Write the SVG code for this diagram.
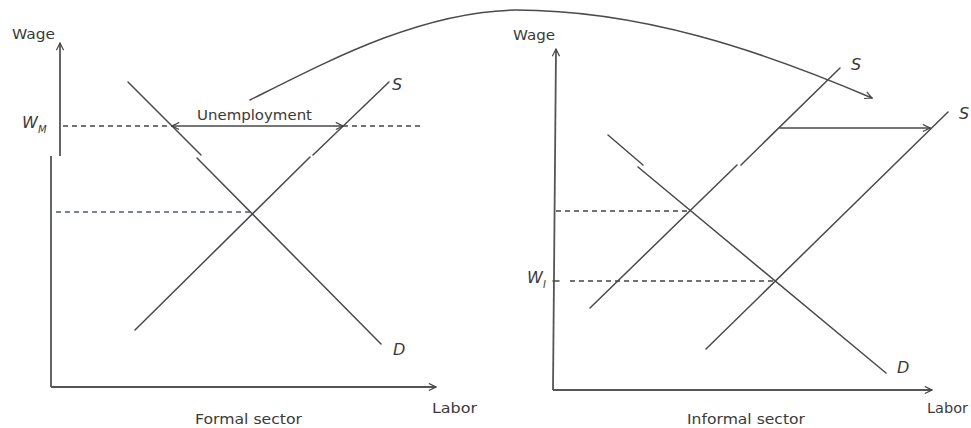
<svg xmlns="http://www.w3.org/2000/svg" width="971" height="428" viewBox="0 0 971 428">
<defs>
<style>
.ln{stroke:#4a4a4a;stroke-width:1.5;fill:none;stroke-linecap:round}
.ax{stroke:#555;stroke-width:1.8;fill:none}
.dash{stroke:#444;stroke-width:1.3;fill:none;stroke-dasharray:5 4}
.blue{stroke:#4a5a8c}
.t{font-family:"DejaVu Sans","Liberation Sans",sans-serif;font-size:14px;fill:#3a3a3a}
.i{font-family:"DejaVu Sans","Liberation Sans",sans-serif;font-size:16px;font-style:italic;fill:#3a3a3a}
.sub{font-family:"DejaVu Sans","Liberation Sans",sans-serif;font-size:10px;font-style:italic;fill:#3a3a3a}
</style>
<marker id="arr" viewBox="0 0 10 10" refX="9" refY="5" markerWidth="9" markerHeight="9" markerUnits="userSpaceOnUse" orient="auto-start-reverse">
<path d="M1,1 L9,5 L1,9" fill="none" stroke="#444" stroke-width="1.3"/>
</marker>
</defs>
<rect width="971" height="428" fill="#ffffff"/>

<g id="formal-sector">
<g id="formal-axes">
<line class="ax" x1="60" y1="156" x2="60" y2="43" marker-end="url(#arr)"/>
<line class="ax" x1="51" y1="156" x2="51" y2="387"/>
<line class="ax" x1="51" y1="387" x2="436" y2="387" marker-end="url(#arr)"/>
<text class="t" x="12" y="39" textLength="43" lengthAdjust="spacingAndGlyphs">Wage</text>
<text class="t" x="432" y="413" textLength="45" lengthAdjust="spacingAndGlyphs">Labor</text>
<text class="t" x="195" y="424" textLength="107" lengthAdjust="spacingAndGlyphs">Formal sector</text>
</g>
<g id="formal-demand">
<line class="ln" x1="128" y1="82" x2="201" y2="155"/>
<line class="ln" x1="197" y1="158" x2="381" y2="344"/>
<text class="i" x="393" y="355">D</text>
</g>
<g id="formal-supply">
<line class="ln" x1="135" y1="330" x2="310" y2="157"/>
<line class="ln" x1="313" y1="155" x2="389" y2="82"/>
<text class="i" x="392" y="90">S</text>
</g>
<g id="formal-wm">
<line class="dash" x1="63" y1="126" x2="172" y2="126"/>
<line class="dash" x1="343" y1="126" x2="424" y2="126"/>
<text class="i" x="22" y="128">W</text>
<text class="sub" x="38" y="133">M</text>
</g>
<g id="formal-equilibrium">
<line class="dash blue" x1="56" y1="212" x2="251" y2="212"/>
</g>
<g id="unemployment">
<line class="ln" x1="172" y1="126" x2="343" y2="126" marker-start="url(#arr)" marker-end="url(#arr)"/>
<text class="t" x="197" y="120" textLength="115" lengthAdjust="spacingAndGlyphs">Unemployment</text>
</g>
</g>

<g id="informal-sector">
<g id="informal-axes">
<line class="ax" x1="553" y1="390" x2="556" y2="49" marker-end="url(#arr)"/>
<line class="ax" x1="553" y1="390" x2="932" y2="390" marker-end="url(#arr)"/>
<text class="t" x="513" y="40" textLength="42" lengthAdjust="spacingAndGlyphs">Wage</text>
<text class="t" x="927" y="413" textLength="41" lengthAdjust="spacingAndGlyphs">Labor</text>
<text class="t" x="687" y="424" textLength="118" lengthAdjust="spacingAndGlyphs">Informal sector</text>
</g>
<g id="informal-demand">
<line class="ln" x1="608" y1="135" x2="643" y2="165"/>
<line class="ln" x1="638" y1="167" x2="886" y2="373"/>
<text class="i" x="897" y="373">D</text>
</g>
<g id="informal-supply-1">
<line class="ln" x1="590" y1="308" x2="737" y2="165"/>
<line class="ln" x1="741" y1="165" x2="840" y2="68"/>
<text class="i" x="851" y="70">S</text>
</g>
<g id="informal-supply-2">
<line class="ln" x1="706" y1="349" x2="948" y2="112"/>
<text class="i" x="959" y="119">S</text>
</g>
<g id="informal-equilibrium">
<line class="dash" x1="556" y1="211" x2="690" y2="211"/>
</g>
<g id="informal-wi">
<line class="ln" x1="553" y1="281" x2="559" y2="281"/>
<line class="dash" x1="570" y1="281" x2="775" y2="281"/>
<text class="i" x="527" y="283">W</text>
<text class="sub" x="543" y="288">I</text>
</g>
</g>

<g id="connectors">
<path class="ln" d="M250,100 C330,60 420,12 515,10 C640,10 760,50 872,98" marker-end="url(#arr)"/>
<line class="ln" x1="780" y1="128" x2="930" y2="128" marker-end="url(#arr)"/>
</g>
</svg>
